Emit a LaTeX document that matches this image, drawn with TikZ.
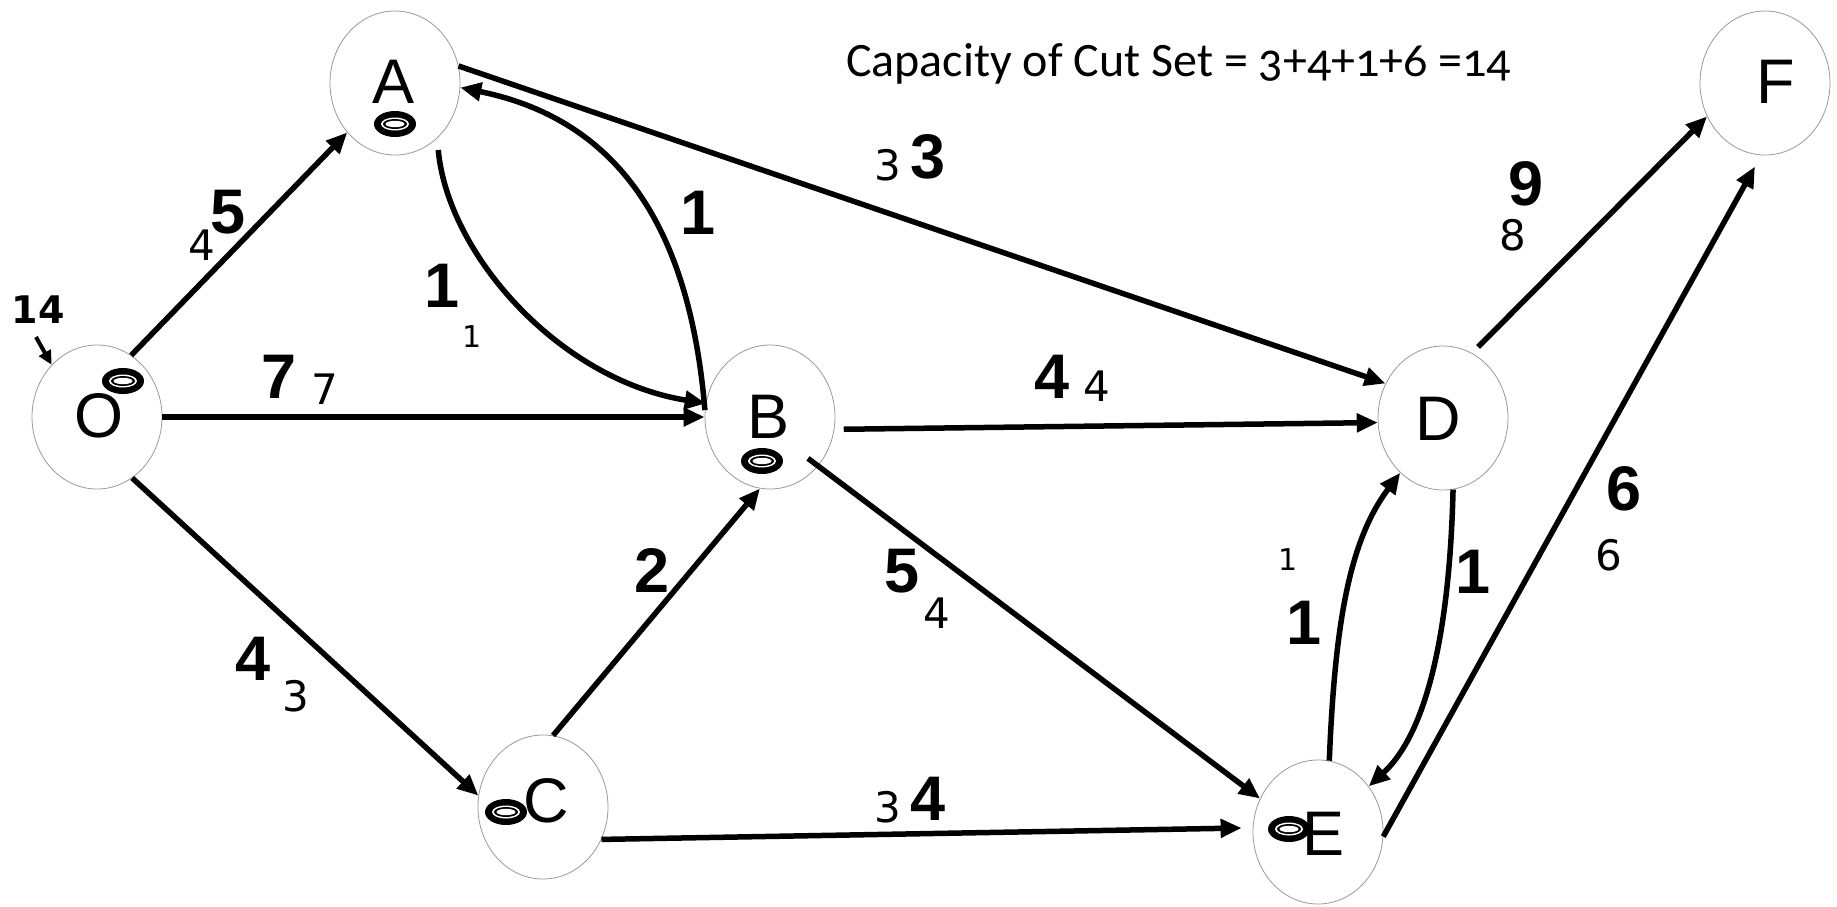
\documentclass[tikz,border=0pt]{standalone}
\usepackage{fontspec}
\usetikzlibrary{shapes.geometric,arrows.meta}
\newfontfamily\lettfont{Liberation Sans}
\newfontfamily\flowfont{DejaVu Sans}
\newfontfamily\titlefont[Numbers=OldStyle]{Carlito}
\begin{document}
\begin{tikzpicture}[x=1pt,y=-1pt,
  vert/.style={ellipse,draw=black!40,line width=0.8pt,fill=white,minimum width=130pt,minimum height=144pt,inner sep=0pt},
  letter/.style={anchor=base,inner sep=0pt,font={\lettfont\fontsize{63}{63}\selectfont}},
  capnum/.style={anchor=base,inner sep=0pt,font={\lettfont\bfseries\fontsize{63}{63}\selectfont}},
  flownum/.style={anchor=base,inner sep=0pt,font={\flowfont\fontsize{42}{42}\selectfont}},
  flowone/.style={anchor=base,inner sep=0pt,font={\flowfont\fontsize{30}{30}\selectfont}},
  edge/.style={line width=5.5pt,-{Triangle[length=21pt,width=18pt]}},
  token/.pic={
    \fill[black] (0,0) ellipse [x radius=21pt, y radius=13pt];
    \fill[white] (0,0) ellipse [x radius=14pt, y radius=6.5pt];
    \fill[black] (0,0) ellipse [x radius=12pt, y radius=5pt];
    \fill[white] (0,0) ellipse [x radius=9.5pt, y radius=3.2pt];
  }
]
\useasboundingbox (0,0) rectangle (1837,906);
\fill[white] (0,0) rectangle (1837,906);

% vertices
\node[vert] (O) at (97,417) {};
\node[vert] (A) at (395,83) {};
\node[vert] (B) at (770,417) {};
\node[vert] (C) at (543,807) {};
\node[vert] (D) at (1443,418) {};
\node[vert] (E) at (1318,832) {};
\node[vert] (F) at (1765,83) {};

% letters
\node[letter] (lO) at (99,437) {O};
\node[letter] (lA) at (394,103) {A};
\node[letter] (lB) at (769,438) {B};
\node[letter] (lC) at (546,822) {C};
\node[letter] (lD) at (1438,440) {D};
\node[letter] (lE) at (1323,855) {E};
\node[letter] (lF) at (1776,103) {F};

% tokens
\pic at (123,381) {token};
\pic at (395,124) {token};
\pic at (762,461) {token};
\pic at (506,812) {token};
\pic at (1289,829) {token};

% edges
\draw[edge] (O.61) -- (A.226);
\draw[edge] (O.east) -- (B.west);
\draw[edge] (O.300) -- (C.170);
\draw[edge] (A.15) -- (D.149);
\draw[edge] (B.174) .. controls (690,230) and (620,120) .. (A.-4);
\draw[edge] ([shift={(8,6)}]A.300) .. controls (448,255) and (560,380) .. (B.168);
\draw[edge] ([shift={(9,2)}]B.-9) -- (D.184);
\draw[edge] ([shift={(-9,-9)}]B.-47) -- (E.150);
\draw[edge] (C.82) -- (B.262);
\draw[edge] (C.-29) -- ([shift={(-11,-4)}]E.west);
\draw[edge] (E.81) .. controls (1335,620) and (1350,540) .. (D.232);
\draw[edge] (D.278) .. controls (1450,620) and (1430,730) .. (E.42);
\draw[edge] (E.-4) -- ([shift={(0,12)}]F.262);
\draw[edge] ([shift={(3,-8)}]D.63) -- (F.210);

% source inflow
\node[anchor=base,inner sep=0pt,font={\flowfont\bfseries\fontsize{38}{38}\selectfont}] (n14) at (38,323) {14};
\coordinate (s14) at (36,337);
\draw[line width=4pt,-{Triangle[length=14pt,width=13pt]}] (s14) -- (O.131);

% capacities (bold) and flows
\node[capnum] (cOA) at (228,233) {5};
\node[flownum] (fOA) at (202,260) {4};
\node[capnum] (cOB) at (279,398) {7};
\node[flownum] (fOB) at (325,404) {7};
\node[capnum] (cOC) at (253,680) {4};
\node[flownum] (fOC) at (296,711) {3};
\node[capnum] (cAB) at (442,307) {1};
\node[flowone] (fAB) at (472,347) {1};
\node[capnum] (cBA) at (698,234) {1};
\node[flownum] (fAD) at (888,180) {3};
\node[capnum] (cAD) at (928,178) {3};
\node[capnum] (cBD) at (1052,398) {4};
\node[flownum] (fBD) at (1097,401) {4};
\node[capnum] (cBE) at (902,592) {5};
\node[flownum] (fBE) at (937,628) {4};
\node[capnum] (cCB) at (652,592) {2};
\node[flownum] (fCE) at (888,822) {3};
\node[capnum] (cCE) at (928,820) {4};
\node[flowone] (fED) at (1288,570) {1};
\node[capnum] (cED) at (1304,644) {1};
\node[capnum] (cDE) at (1473,593) {1};
\node[capnum] (cEF) at (1624,510) {6};
\node[flownum] (fEF) at (1609,570) {6};
\node[capnum] (cDF) at (1526,205) {9};
\node[flownum] (fDF) at (1513,250) {8};

% title
\node[anchor=base west,inner sep=0pt,font={\titlefont\fontsize{48}{48}\selectfont}] (title) at (846,76) {Capacity of Cut Set = 3+4+1+6 =14};
\end{tikzpicture}
\end{document}
